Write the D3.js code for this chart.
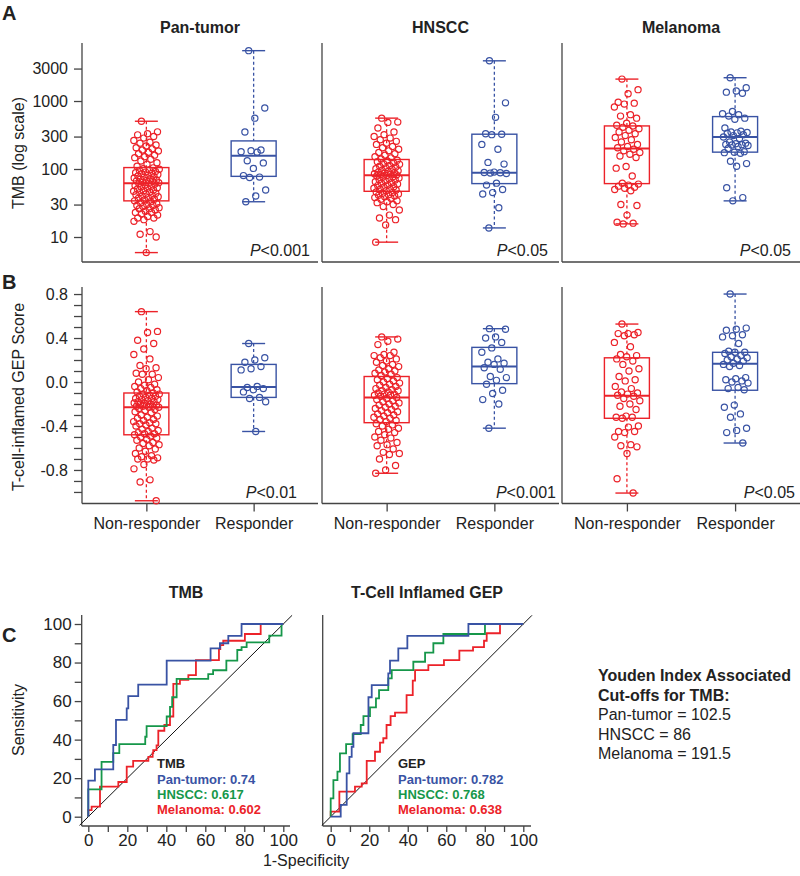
<!DOCTYPE html>
<html>
<head>
<meta charset="utf-8">
<script src="https://cdn.jsdelivr.net/npm/d3@7"></script>
<style>
  body { margin: 0; background: #fff; }
  svg text { font-family: "Liberation Sans", Arial, sans-serif; fill: #222; }
</style>
</head>
<body>
<svg id="chart" width="800" height="876"></svg>
<script>
// ---------- data ----------
const tumors = ["Pan-tumor", "HNSCC", "Melanoma"];
const groups = ["Non-responder", "Responder"];
const tmbTicks = [10, 30, 100, 300, 1000, 3000];
const gepTicks = [-0.8, -0.4, 0, 0.4, 0.8];
const rocTicks = [0, 20, 40, 60, 80, 100];

// TMB values (log scale)
const tmbPanNon = [504, 352, 331, 318, 300, 285, 262, 248, 240, 226, 218, 205, 198, 190, 184, 176, 168, 160, 152, 147, 139, 131, 124, 117, 110,
  104, 101, 99, 97, 95, 92, 90, 88, 86, 85, 83, 81, 79, 77, 76, 74, 72, 71, 69, 68, 67, 66, 64, 63, 62,
  61, 60, 58, 57, 56, 55, 53, 52, 51, 49, 48, 47, 46, 45, 44, 43, 42, 41, 40, 39, 38, 37, 36, 35, 34,
  33, 32, 31, 30, 29, 29, 28, 27, 26, 26, 25, 24, 23, 23, 22, 21, 20, 19, 19, 18, 17, 12, 11, 10, 5.9];
const tmbPanResp = [5500, 790, 560, 350, 190, 186, 180, 176, 132, 123, 102, 80, 76, 75, 49, 40, 33];
const tmbHnNon = [560, 490, 485, 400, 350, 320, 300, 285, 270, 255, 240, 230, 215, 205, 195, 185, 175, 168, 160, 152, 146, 140,
  135, 131, 128, 124, 120, 117, 113, 110, 107, 104, 101, 99, 96, 94, 92, 90, 88, 87, 85, 84, 83, 82,
  80, 79, 77, 76, 74, 72, 70, 69, 67, 65, 63, 62, 60, 58, 57, 55, 54, 52, 51, 50, 49, 48,
  46, 45, 44, 43, 42, 41, 40, 39, 38, 37, 36, 34, 33, 32, 30, 28, 25, 21, 19, 18, 15, 8.4];
const tmbHnResp = [3900, 940, 575, 330, 325, 320, 230, 195, 125, 118, 90, 89, 88, 87, 86, 62, 58, 50, 45, 43, 27, 13.6];
const tmbMelNon = [2100, 1470, 1280, 960, 930, 900, 815, 630, 600, 560, 470, 440, 430, 410, 390, 370, 350, 330, 310, 290, 270, 250,
  230, 215, 205, 195, 185, 175, 165, 155, 148, 109, 103, 79, 62, 60, 58, 56, 54, 52, 50, 48, 30, 29, 21, 16.5, 16, 15.6];
const tmbMelResp = [2200, 1570, 1400, 1350, 1300, 700, 650, 630, 600, 560, 540, 400, 360, 350, 345, 340, 335, 320, 310, 295,
  280, 250, 240, 235, 230, 228, 225, 222, 215, 200, 180, 176, 174, 170, 130, 120, 110, 53, 38, 34];

// box stats: [min, q1, median, q3, max] for non-responder, responder
const tmbBoxPan = [[5.9, 34, 62, 105, 504], [33, 78, 157, 259, 5500]];
const tmbBoxHn = [[8.4, 47, 81, 138, 560], [13.6, 61, 88, 325, 3900]];
const tmbBoxMel = [[15.6, 61, 200, 430, 2100], [34, 177, 295, 590, 2200]];

// T-cell-inflamed GEP score
const gepPanNon = [0.64, 0.46, 0.45, 0.38, 0.35, 0.30, 0.25, 0.21, 0.15, 0.13, 0.12, 0.08, 0.07, 0.07, 0.04, 0.02, 0.0, -0.02, -0.03, -0.04, -0.05, -0.06, -0.07, -0.08, -0.09,
  -0.10, -0.11, -0.11, -0.12, -0.13, -0.13, -0.14, -0.15, -0.15, -0.16, -0.16, -0.17, -0.18, -0.18, -0.19, -0.19, -0.20, -0.20, -0.21, -0.21, -0.22, -0.22, -0.22, -0.23, -0.23,
  -0.24, -0.25, -0.26, -0.27, -0.28, -0.30, -0.31, -0.32, -0.33, -0.34, -0.35, -0.36, -0.37, -0.38, -0.38, -0.39, -0.40, -0.42, -0.43, -0.44, -0.45, -0.46, -0.47, -0.47, -0.48,
  -0.49, -0.50, -0.51, -0.52, -0.53, -0.55, -0.56, -0.57, -0.58, -0.60, -0.61, -0.63, -0.65, -0.67, -0.68, -0.69, -0.70, -0.70, -0.71, -0.75, -0.79, -0.89, -0.91, -1.08];
const gepPanResp = [0.35, 0.22, 0.20, 0.18, 0.14, 0.12, 0.11, -0.04, -0.05, -0.06, -0.07, -0.09, -0.14, -0.15, -0.18, -0.45];
const gepHnNon = [0.41, 0.39, 0.37, 0.34, 0.27, 0.25, 0.24, 0.24, 0.22, 0.21, 0.19, 0.18, 0.16, 0.15, 0.14, 0.12, 0.11, 0.10, 0.09, 0.08, 0.07, 0.06,
  0.04, 0.03, 0.02, 0.01, 0.0, -0.01, -0.02, -0.03, -0.04, -0.05, -0.06, -0.07, -0.08, -0.08, -0.09, -0.10, -0.11, -0.11, -0.12, -0.12, -0.13, -0.14,
  -0.15, -0.16, -0.17, -0.18, -0.19, -0.20, -0.21, -0.22, -0.23, -0.24, -0.25, -0.26, -0.27, -0.28, -0.29, -0.30, -0.31, -0.32, -0.33, -0.34, -0.35, -0.36,
  -0.38, -0.39, -0.40, -0.42, -0.43, -0.45, -0.46, -0.48, -0.50, -0.51, -0.53, -0.55, -0.57, -0.58, -0.61, -0.64, -0.65, -0.66, -0.70, -0.76, -0.80, -0.83];
const gepHnResp = [0.485, 0.48, 0.41, 0.40, 0.36, 0.31, 0.27, 0.21, 0.18, 0.17, 0.16, 0.13, 0.115, 0.05, 0.04, 0.015, -0.02, -0.075, -0.105, -0.16, -0.20, -0.42];
const gepMelNon = [0.527, 0.45, 0.44, 0.44, 0.43, 0.42, 0.36, 0.32, 0.25, 0.24, 0.23, 0.21, 0.19, 0.16, 0.12, 0.10, 0.05, 0.02, 0.01, -0.04, -0.06, -0.09, -0.10, -0.11,
  -0.12, -0.13, -0.15, -0.17, -0.20, -0.22, -0.25, -0.31, -0.32, -0.32, -0.33, -0.40, -0.41, -0.45, -0.45, -0.46, -0.50, -0.57, -0.58, -0.59, -0.65, -0.88, -1.01];
const gepMelResp = [0.80, 0.49, 0.48, 0.47, 0.43, 0.42, 0.41, 0.35, 0.28, 0.27, 0.27, 0.26, 0.24, 0.23, 0.22, 0.21, 0.20, 0.19, 0.17, 0.16, 0.15, 0.14,
  0.04, 0.03, 0.02, 0.01, 0.0, -0.01, -0.05, -0.06, -0.07, -0.21, -0.23, -0.29, -0.32, -0.42, -0.44, -0.46, -0.555];

const gepBoxPan = [[-1.08, -0.48, -0.23, -0.10, 0.64], [-0.45, -0.14, -0.045, 0.16, 0.35]];
const gepBoxHn = [[-0.83, -0.37, -0.14, 0.05, 0.41], [-0.42, -0.015, 0.14, 0.315, 0.485]];
const gepBoxMel = [[-1.01, -0.33, -0.125, 0.22, 0.527], [-0.555, -0.075, 0.166, 0.27, 0.80]];

const tmbP = ["<0.001", "<0.05", "<0.05"];
const gepP = ["<0.01", "<0.001", "<0.05"];

// ROC curves: [1-specificity, sensitivity] at each rise (step after)
const rocTmbPan = [[0, 0], [0, 18.7], [3.4, 24.6], [12.8, 37.2], [14.2, 50.2], [19.7, 56.2], [20.5, 62.6], [25.6, 68.5], [40.2, 81], [62.7, 87.4], [67.5, 90], [71.8, 93.8], [78.6, 100], [100, 100]];
const rocTmbHn = [[0, 0], [0, 14.2], [6.8, 28.5], [12.8, 33], [15.9, 37.7], [29.2, 41.5], [29.9, 47], [40.2, 52], [41.9, 57], [43, 62], [45.3, 71.5], [61.5, 74], [64, 76], [70.8, 81], [76.4, 86.5], [78.6, 88], [81.2, 90.5], [92.8, 94], [99.1, 100], [100, 100]];
const rocTmbMel = [[0, 0], [0, 3.4], [1.7, 5.2], [6, 15.6], [15.4, 18], [19.7, 26], [23, 29], [30.8, 31], [33, 33], [33.3, 34.6], [35, 37], [35.9, 44.6], [39, 47.6], [41.9, 52], [43.6, 68.9], [47, 71], [51.3, 73.5], [55.2, 81.3], [67, 87], [67.7, 89], [69.2, 91.3], [80.3, 94.8], [88.4, 100], [100, 100]];
const rocGepPan = [[0, 0], [5.2, 6.1], [8.3, 22.5], [9.7, 31], [10.9, 36.3], [11.8, 43.3], [19.6, 62], [21.3, 68.3], [29.9, 74.4], [30.8, 81], [35.1, 87.4], [39.8, 93.8], [71.5, 100], [100, 100]];
const rocGepHn = [[0, 0], [0, 9.5], [1.4, 19], [3.5, 23.4], [4.8, 32.9], [8, 37.7], [11.4, 42.9], [15.6, 47.6], [17, 52.2], [20.4, 56.7], [23.5, 61.4], [25.1, 65.7], [29.9, 71.8], [31.7, 76.1], [42.9, 80.4], [49, 85.1], [53.3, 90], [58.5, 94.8], [80.1, 100], [100, 100]];
const rocGepMel = [[0, 0], [0, 2.6], [4.5, 13], [12.6, 15.6], [16.1, 17.3], [18.7, 29], [23, 33.7], [25.6, 38.4], [27.3, 40.7], [29, 47.6], [31.1, 52.2], [33.4, 54], [39.4, 63.1], [42.6, 70.6], [43.8, 76.1], [50.7, 78.7], [58.8, 81.3], [66.8, 86.2], [73.9, 88], [79.6, 91.3], [81, 95.2], [87.9, 100], [100, 100]];

const aucTmb = ["0.74", "0.617", "0.602"];
const aucGep = ["0.782", "0.768", "0.638"];
const youdenCutoffs = [102.5, 86, 191.5];

// ---------- layout ----------
const svg = d3.select('#chart');
const red = '#ec2229', blue = '#3953a4', green = '#16974a', axisCol = '#444';
const tumorColors = [blue, green, red];
const panelX = [[82, 318], [322, 559], [562, 800]];

svg.append('rect').attr('width', 800).attr('height', 876).attr('fill', '#fff');

const yTmb = d3.scaleLog().domain([4.29, 7130]).range([262, 43]);
const yGep = d3.scaleLinear().domain([-1.105, 0.864]).range([503.5, 287]);

// deterministic horizontal spread for the dots
const jitter = i => (((i * 0.6180339887 + 0.31) % 1) - 0.5) * 26;

function boxPanel(col, y, top, bottom, series, boxes, pText, pRight, withX) {
  const [l, r] = panelX[col];
  const g = svg.append('g');
  const x = d3.scalePoint().domain(groups).range([l, r]).padding(0.6);

  g.append('line').attr('x1', l).attr('x2', l).attr('y1', top).attr('y2', bottom)
    .attr('stroke', axisCol).attr('stroke-width', 1.3);
  g.append('line').attr('x1', l).attr('x2', r).attr('y1', bottom).attr('y2', bottom)
    .attr('stroke', axisCol).attr('stroke-width', 1.3);

  groups.forEach((grp, gi) => {
    const c = gi === 0 ? red : blue;
    const cx = x(grp);
    const [mn, q1, md, q3, mx] = boxes[gi];
    const bw = 45, cw = 23;
    // dashed whiskers
    [[mx, q3], [q1, mn]].forEach(([a, b]) => {
      g.append('line').attr('x1', cx).attr('x2', cx).attr('y1', y(a)).attr('y2', y(b))
        .attr('stroke', c).attr('stroke-width', 1.3).attr('stroke-dasharray', '3,2.5');
    });
    // caps
    [mn, mx].forEach(v => {
      g.append('line').attr('x1', cx - cw / 2).attr('x2', cx + cw / 2).attr('y1', y(v)).attr('y2', y(v))
        .attr('stroke', c).attr('stroke-width', 1.4);
    });
    // box
    g.append('rect').attr('x', cx - bw / 2).attr('width', bw)
      .attr('y', y(q3)).attr('height', y(q1) - y(q3))
      .attr('fill', 'none').attr('stroke', c).attr('stroke-width', 1.4);
    g.append('line').attr('x1', cx - bw / 2).attr('x2', cx + bw / 2).attr('y1', y(md)).attr('y2', y(md))
      .attr('stroke', c).attr('stroke-width', 2);
    // points
    g.selectAll(null).data(series[gi]).join('circle')
      .attr('cx', (d, i) => cx + jitter(i))
      .attr('cy', d => y(d))
      .attr('r', 3.1)
      .attr('fill', 'none').attr('stroke', c).attr('stroke-width', 1.2);
  });

  // p value
  const t = g.append('text').attr('x', r + pRight).attr('y', bottom - 6)
    .attr('text-anchor', 'end').attr('font-size', 16);
  t.append('tspan').attr('font-style', 'italic').text('P');
  t.append('tspan').text(pText);

  if (withX) {
    const ax = g.append('g').attr('transform', `translate(0,${bottom})`)
      .call(d3.axisBottom(x).tickSize(8).tickPadding(6));
    ax.select('.domain').remove();
    ax.selectAll('line').attr('stroke', axisCol).attr('stroke-width', 1.3);
    ax.selectAll('text').attr('font-size', 16).attr('fill', '#222')
      .style('font-family', '"Liberation Sans", Arial, sans-serif');
  }
}

// ---- panel A: TMB ----
const tmbSeries = [[tmbPanNon, tmbPanResp], [tmbHnNon, tmbHnResp], [tmbMelNon, tmbMelResp]];
const tmbBoxes = [tmbBoxPan, tmbBoxHn, tmbBoxMel];
const pRightA = [-8, -11, -9];
tumors.forEach((tm, i) => {
  boxPanel(i, yTmb, 43, 262, tmbSeries[i], tmbBoxes[i], tmbP[i], pRightA[i], false);
  svg.append('text').attr('x', (panelX[i][0] + panelX[i][1]) / 2).attr('y', 33)
    .attr('text-anchor', 'middle').attr('font-size', 16).attr('font-weight', 'bold').text(tm);
});

const axA = svg.append('g').attr('transform', 'translate(82,0)')
  .call(d3.axisLeft(yTmb).tickValues(tmbTicks).tickSize(8).tickPadding(6).tickFormat(d3.format('d')));
axA.select('.domain').remove();
axA.selectAll('line').attr('stroke', axisCol).attr('stroke-width', 1.3);
axA.selectAll('text').attr('font-size', 16).attr('fill', '#222').style('font-family', '"Liberation Sans", Arial, sans-serif');

svg.append('text').attr('transform', 'translate(24,153) rotate(-90)')
  .attr('text-anchor', 'middle').attr('font-size', 16).text('TMB (log scale)');

// ---- panel B: GEP ----
const gepSeries = [[gepPanNon, gepPanResp], [gepHnNon, gepHnResp], [gepMelNon, gepMelResp]];
const gepBoxes = [gepBoxPan, gepBoxHn, gepBoxMel];
const pRightB = [-21, -3, -5];
tumors.forEach((tm, i) => {
  boxPanel(i, yGep, 287, 503.5, gepSeries[i], gepBoxes[i], gepP[i], pRightB[i], true);
});

const gepMinor = d3.range(-10, 9).map(k => k / 10);
const axB = svg.append('g').attr('transform', 'translate(82,0)')
  .call(d3.axisLeft(yGep).tickValues(gepMinor).tickSize(8).tickPadding(6)
    .tickFormat(d => gepTicks.some(t => Math.abs(t - d) < 1e-6) ? d.toFixed(1) : ''));
axB.select('.domain').remove();
axB.selectAll('line').attr('stroke', axisCol).attr('stroke-width', 1.3);
axB.selectAll('text').attr('font-size', 16).attr('fill', '#222').style('font-family', '"Liberation Sans", Arial, sans-serif');

svg.append('text').attr('transform', 'translate(24,397) rotate(-90)')
  .attr('text-anchor', 'middle').attr('font-size', 16).text('T-cell-inflamed GEP Score');

// ---- panel C: ROC ----
const yRoc = d3.scaleLinear().domain([0, 100]).range([816.7, 624]);
const rocLine = x => d3.line().x(d => x(d[0])).y(d => yRoc(d[1])).curve(d3.curveStepAfter);

function rocPanel(xr, axisX, axisEnd, curves, title, titleX, legendTitle, aucs, legendX, withY) {
  const x = d3.scaleLinear().domain([0, 100]).range(xr);
  const g = svg.append('g');
  const base = 826;
  g.append('line').attr('x1', axisX).attr('x2', axisX).attr('y1', 615).attr('y2', base)
    .attr('stroke', axisCol).attr('stroke-width', 1.3);
  g.append('line').attr('x1', axisX).attr('x2', axisEnd).attr('y1', base).attr('y2', base)
    .attr('stroke', axisCol).attr('stroke-width', 1.3);

  const ax = g.append('g').attr('transform', `translate(0,${base})`)
    .call(d3.axisBottom(x).tickValues(d3.range(0, 101, 10)).tickSize(6).tickPadding(2)
      .tickFormat(d => rocTicks.includes(d) ? d : ''));
  ax.select('.domain').remove();
  ax.selectAll('line').attr('stroke', axisCol).attr('stroke-width', 1.3);
  ax.selectAll('text').attr('font-size', 17).attr('fill', '#222').style('font-family', '"Liberation Sans", Arial, sans-serif');

  if (withY) {
    const ay = g.append('g').attr('transform', `translate(${axisX},0)`)
      .call(d3.axisLeft(yRoc).tickValues(d3.range(0, 101, 10)).tickSize(7).tickPadding(3)
        .tickFormat(d => rocTicks.includes(d) ? d : ''));
    ay.select('.domain').remove();
    ay.selectAll('line').attr('stroke', axisCol).attr('stroke-width', 1.3);
    ay.selectAll('text').attr('font-size', 17).attr('fill', '#222').style('font-family', '"Liberation Sans", Arial, sans-serif');
  }

  // chance line
  g.append('line').attr('x1', x(-4.5)).attr('y1', yRoc(-4.5)).attr('x2', x(104.5)).attr('y2', yRoc(104.5))
    .attr('stroke', '#111').attr('stroke-width', 1);

  // curves drawn melanoma, HNSCC, pan-tumor (pan-tumor on top)
  [2, 1, 0].forEach(k => {
    g.append('path').datum(curves[k]).attr('d', rocLine(x))
      .attr('fill', 'none').attr('stroke', tumorColors[k]).attr('stroke-width', 1.8);
  });

  g.append('text').attr('x', titleX).attr('y', 598).attr('text-anchor', 'middle')
    .attr('font-size', 16).attr('font-weight', 'bold').text(title);

  g.append('text').attr('x', legendX).attr('y', 768).attr('font-size', 13)
    .attr('font-weight', 'bold').text(legendTitle);
  tumors.forEach((tm, k) => {
    g.append('text').attr('x', legendX).attr('y', 783.5 + k * 15).attr('font-size', 13)
      .attr('font-weight', 'bold').style('fill', tumorColors[k]).text(`${tm}: ${aucs[k]}`);
  });
}

rocPanel([88.3, 283.3], 81.7, 290, [rocTmbPan, rocTmbHn, rocTmbMel], 'TMB', 186, 'TMB', aucTmb, 157, true);
rocPanel([330.7, 523.3], 322.7, 531, [rocGepPan, rocGepHn, rocGepMel], 'T-Cell Inflamed GEP', 427, 'GEP', aucGep, 398, false);

svg.append('text').attr('transform', 'translate(24,720) rotate(-90)')
  .attr('text-anchor', 'middle').attr('font-size', 16).text('Sensitivity');
svg.append('text').attr('x', 306).attr('y', 866).attr('text-anchor', 'middle')
  .attr('font-size', 16).text('1-Specificity');

// Youden cut-offs
const yd = svg.append('g').attr('font-size', 16);
yd.append('text').attr('x', 598).attr('y', 681).attr('font-weight', 'bold').text('Youden Index Associated');
yd.append('text').attr('x', 598).attr('y', 700.5).attr('font-weight', 'bold').text('Cut-offs for TMB:');
tumors.forEach((tm, k) => {
  yd.append('text').attr('x', 598).attr('y', 720 + k * 19.5).text(`${tm} = ${youdenCutoffs[k]}`);
});

// panel letters
[['A', 20], ['B', 289], ['C', 642]].forEach(([lab, yy]) => {
  svg.append('text').attr('x', 2).attr('y', yy).attr('font-size', 20).attr('font-weight', 'bold')
    .style('font-family', '"Liberation Sans Narrow", "Liberation Sans", Arial, sans-serif').text(lab);
});
</script>
</body>
</html>
